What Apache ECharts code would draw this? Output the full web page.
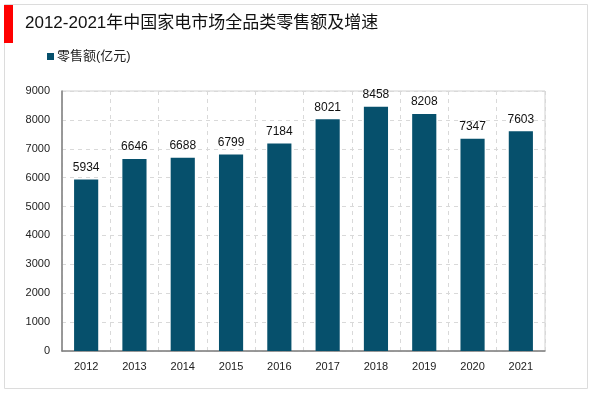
<!DOCTYPE html>
<html><head><meta charset="utf-8">
<script src="https://cdn.jsdelivr.net/npm/echarts@6/dist/echarts.min.js"></script>
<style>html,body{margin:0;padding:0;background:#fff}#c{width:600px;height:393px}</style>
</head><body><div id="c"></div>
<script>
const categories = ['2012','2013','2014','2015','2016','2017','2018','2019','2020','2021'];
const retailSales = [5934, 6646, 6688, 6799, 7184, 8021, 8458, 8208, 7347, 7603];
const seriesName = '零售额(亿元)';
const titleText = '2012-2021年中国家电市场全品类零售额及增速';

const chart = echarts.init(document.getElementById('c'));
const font = 'Arial, "Liberation Sans", "Noto Sans CJK SC", sans-serif';
chart.setOption({
  animation: false,
  textStyle: { fontFamily: font },
  graphic: [
    { type: 'rect', shape: { x: 4.5, y: 4.5, width: 583, height: 384 }, style: { fill: 'none', stroke: '#dcdcdc', lineWidth: 1 }, z: 0 },
    { type: 'rect', shape: { x: 4, y: 5, width: 9, height: 38 }, style: { fill: '#ff0000' }, z: 1 },
    { type: 'text', left: 25, top: 15, style: { text: titleText, font: '17px ' + font, fill: '#111' } }
  ],
  legend: {
    left: 42, top: 45, itemWidth: 7, itemHeight: 7, itemGap: 3,
    icon: 'rect',
    textStyle: { fontSize: 13, color: '#222', fontFamily: font, padding: [0, 0, 0, -2] },
    data: [seriesName]
  },
  grid: { left: 62, right: 55, top: 91, bottom: 42, show: true, borderColor: '#d0d0d0', borderWidth: 1 },
  xAxis: {
    type: 'category', data: categories,
    axisLine: { lineStyle: { color: '#7f7f7f', width: 1.5 } },
    axisTick: { show: false },
    axisLabel: { color: '#222', fontSize: 11, margin: 10 },
    splitLine: { show: true, lineStyle: { color: '#d9d9d9', type: [4, 4] } }
  },
  yAxis: {
    type: 'value', min: 0, max: 9000, interval: 1000,
    axisLine: { show: true, lineStyle: { color: '#7f7f7f', width: 1.5 } },
    axisTick: { show: false },
    axisLabel: { color: '#222', fontSize: 11, margin: 12, formatter: v => String(v) },
    splitLine: { show: true, lineStyle: { color: '#d9d9d9', type: [4, 4] } }
  },
  series: [{
    name: seriesName, type: 'bar', data: retailSales, barWidth: '50%',
    itemStyle: { color: '#06506c' },
    label: { show: true, position: 'top', color: '#111', fontSize: 12, distance: 6 }
  }]
});
</script></body></html>
